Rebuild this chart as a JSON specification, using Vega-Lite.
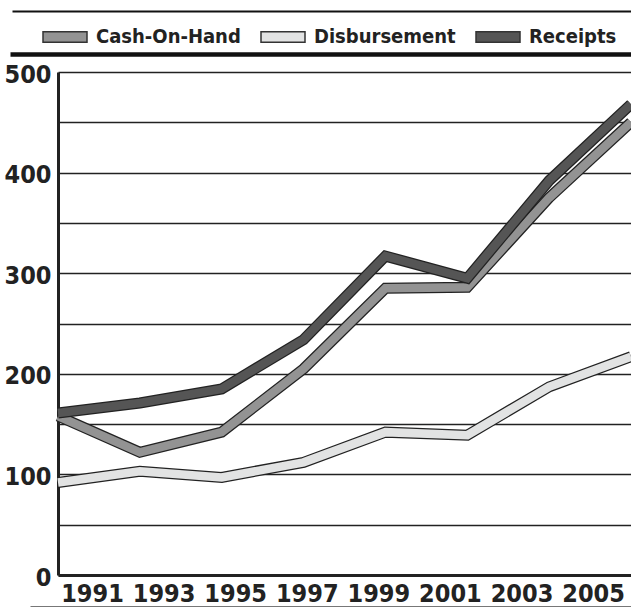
{
  "$schema": "https://vega.github.io/schema/vega-lite/v6.json",
  "width": 573,
  "height": 503,
  "autosize": {"type": "none"},
  "padding": {"left": 58, "top": 72, "right": 0, "bottom": 33},
  "background": "white",
  "config": {"view": {"stroke": null}, "font": "DejaVu Sans Condensed"},
  "data": {
    "values": [
      {"year": 1991, "series": "Cash-On-Hand", "value": 158},
      {"year": 1993, "series": "Cash-On-Hand", "value": 122},
      {"year": 1995, "series": "Cash-On-Hand", "value": 142},
      {"year": 1997, "series": "Cash-On-Hand", "value": 205},
      {"year": 1999, "series": "Cash-On-Hand", "value": 285},
      {"year": 2001, "series": "Cash-On-Hand", "value": 286},
      {"year": 2003, "series": "Cash-On-Hand", "value": 375},
      {"year": 2005, "series": "Cash-On-Hand", "value": 450},
      {"year": 1991, "series": "Disbursement", "value": 92},
      {"year": 1993, "series": "Disbursement", "value": 103},
      {"year": 1995, "series": "Disbursement", "value": 97},
      {"year": 1997, "series": "Disbursement", "value": 112},
      {"year": 1999, "series": "Disbursement", "value": 142},
      {"year": 2001, "series": "Disbursement", "value": 139},
      {"year": 2003, "series": "Disbursement", "value": 187},
      {"year": 2005, "series": "Disbursement", "value": 217},
      {"year": 1991, "series": "Receipts", "value": 161},
      {"year": 1993, "series": "Receipts", "value": 171},
      {"year": 1995, "series": "Receipts", "value": 185},
      {"year": 1997, "series": "Receipts", "value": 234},
      {"year": 1999, "series": "Receipts", "value": 317},
      {"year": 2001, "series": "Receipts", "value": 295},
      {"year": 2003, "series": "Receipts", "value": 392},
      {"year": 2005, "series": "Receipts", "value": 468}
    ]
  },
  "layer": [
    {
      "encoding": {
        "x": {
          "field": "year", "type": "quantitative",
          "scale": {"domain": [1991, 2005], "nice": false, "zero": false},
          "axis": {"orient": "bottom", "title": null, "domain": true, "domainColor": "#222", "domainWidth": 3, "ticks": false, "labels": false, "grid": false}
        },
        "y": {
          "field": "value", "type": "quantitative",
          "scale": {"domain": [0, 500], "nice": false, "zero": true},
          "axis": {
            "title": null,
            "values": [0, 50, 100, 150, 200, 250, 300, 350, 400, 450, 500],
            "labelExpr": "datum.value % 100 === 0 ? datum.label : ''",
            "grid": true, "gridColor": "#222", "gridWidth": 1.5, "gridOpacity": 1,
            "domain": true, "domainColor": "#222", "domainWidth": 3,
            "ticks": false,
            "labelFont": "DejaVu Sans Condensed", "labelFontSize": 25, "labelFontWeight": "bold",
            "labelColor": "#222", "labelPadding": 7, "labelOffset": 2
          }
        }
      },
      "layer": [
        {"transform": [{"filter": "datum.series === 'Disbursement'"}], "mark": {"type": "line", "color": "#222", "strokeWidth": 11, "strokeJoin": "miter", "strokeCap": "butt"}},
        {"transform": [{"filter": "datum.series === 'Disbursement'"}], "mark": {"type": "line", "color": "#e2e3e3", "strokeWidth": 8.5, "strokeJoin": "miter", "strokeCap": "butt"}},
        {"transform": [{"filter": "datum.series === 'Cash-On-Hand'"}], "mark": {"type": "line", "color": "#222", "strokeWidth": 11, "strokeJoin": "miter", "strokeCap": "butt"}},
        {"transform": [{"filter": "datum.series === 'Cash-On-Hand'"}], "mark": {"type": "line", "color": "#939393", "strokeWidth": 8.5, "strokeJoin": "miter", "strokeCap": "butt"}},
        {"transform": [{"filter": "datum.series === 'Receipts'"}], "mark": {"type": "line", "color": "#222", "strokeWidth": 11, "strokeJoin": "miter", "strokeCap": "butt"}},
        {"transform": [{"filter": "datum.series === 'Receipts'"}], "mark": {"type": "line", "color": "#555555", "strokeWidth": 8.5, "strokeJoin": "miter", "strokeCap": "butt"}}
      ]
    },
    {
      "mark": {"type": "point", "filled": true, "opacity": 0},
      "encoding": {
        "x": {
          "field": "year", "type": "quantitative",
          "scale": {"domain": [1990.05, 2006.06], "nice": false, "zero": false},
          "axis": {"orient": "bottom", "title": null, "values": [1991, 1993, 1995, 1997, 1999, 2001, 2003, 2005], "format": "d",
            "domain": false, "ticks": false, "grid": false, "labelFlush": false, "labelOverlap": false,
            "labelFont": "DejaVu Sans Condensed", "labelFontSize": 25, "labelFontWeight": "bold",
            "labelColor": "#222", "labelPadding": 6}
        },
        "fill": {"field": "series", "type": "nominal",
          "scale": {"domain": ["Cash-On-Hand", "Disbursement", "Receipts"], "range": ["#939393", "#e2e3e3", "#555555"]},
          "legend": {
            "orient": "none", "legendX": -16, "legendY": -58, "direction": "horizontal", "title": null,
            "symbolType": "M-1,-0.24H1V0.24H-1Z", "symbolSize": 1936,
            "symbolStrokeColor": "#333", "symbolStrokeWidth": 1.5, "symbolOpacity": 1,
            "labelFont": "DejaVu Sans Condensed", "labelFontSize": 20, "labelFontWeight": "bold", "labelColor": "#222",
            "labelOffset": 8, "columnPadding": 17, "padding": 0, "labelLimit": 300,
            "encode": {"symbols": {"update": {"opacity": {"value": 1}}}}
          }
        }
      }
    },
    {
      "mark": {"type": "point", "opacity": 0},
      "encoding": {
        "x": {
          "field": "year", "type": "quantitative",
          "scale": {"domain": [1991, 2005], "range": [-48, 573], "nice": false, "zero": false},
          "axis": {"orient": "top", "offset": 18, "title": null, "labels": false, "ticks": false, "grid": false,
            "domain": true, "domainColor": "#111", "domainWidth": 4.5}
        }
      }
    },
    {
      "mark": {"type": "point", "opacity": 0},
      "encoding": {
        "x": {
          "field": "year", "type": "quantitative",
          "scale": {"domain": [1991, 2005], "range": [-46, 573], "nice": false, "zero": false},
          "axis": {"orient": "top", "offset": 61, "title": null, "labels": false, "ticks": false, "grid": false,
            "domain": true, "domainColor": "#111", "domainWidth": 2}
        }
      }
    },
    {
      "mark": {"type": "point", "opacity": 0},
      "encoding": {
        "x": {
          "field": "year", "type": "quantitative",
          "scale": {"domain": [1991, 2005], "range": [-28, 573], "nice": false, "zero": false},
          "axis": {"orient": "bottom", "offset": 31, "title": null, "labels": false, "ticks": false, "grid": false,
            "domain": true, "domainColor": "#777", "domainWidth": 1.2}
        }
      }
    }
  ],
  "resolve": {"scale": {"x": "independent"}}
}
